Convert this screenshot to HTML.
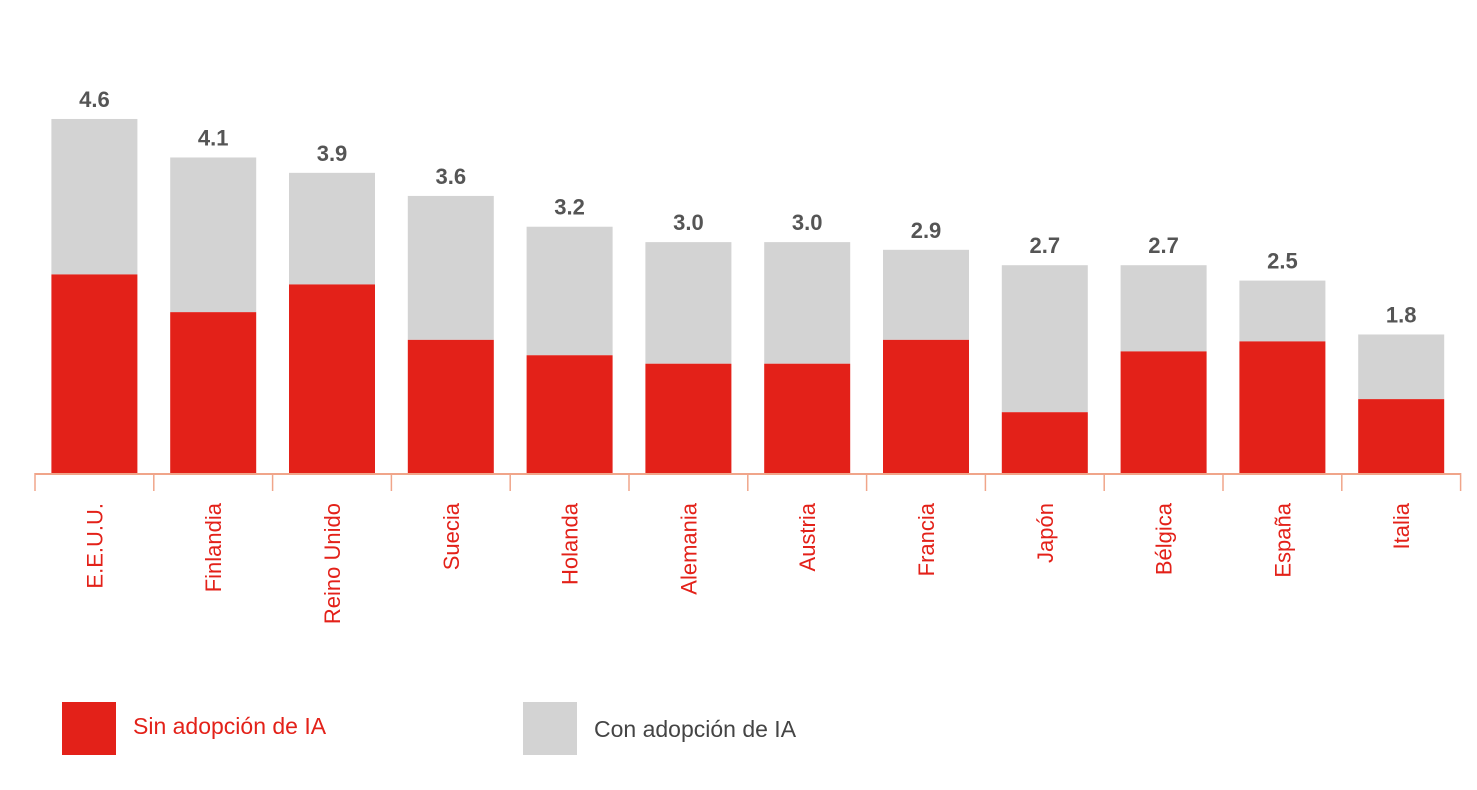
<!DOCTYPE html>
<html><head><meta charset="utf-8"><style>
body{margin:0;background:#fff;width:1477px;height:785px;overflow:hidden;font-family:"Liberation Sans",sans-serif}
</style></head><body>
<svg id="chart" width="1477" height="785" xmlns="http://www.w3.org/2000/svg">
<g id="bars"></g>
<g id="axis"></g>
<g>
<rect x="62" y="702" width="54" height="53" fill="#e32119"/>
<text x="133" y="734" font-size="23" fill="#e32119">Sin adopción de IA</text>
<rect x="523" y="702" width="54" height="53" fill="#d3d3d3"/>
<text x="594" y="737" font-size="23" fill="#444">Con adopción de IA</text>
</g>
</svg>
<script>
const categories=["E.E.U.U.","Finlandia","Reino Unido","Suecia","Holanda","Alemania","Austria","Francia","Japón","Bélgica","España","Italia"];
const totals=[4.6,4.1,3.9,3.6,3.2,3.0,3.0,2.9,2.7,2.7,2.5,1.8];
const sinIA=[2.58,2.09,2.45,1.73,1.53,1.42,1.42,1.73,0.79,1.58,1.71,0.96];
const labels=["4.6","4.1","3.9","3.6","3.2","3.0","3.0","2.9","2.7","2.7","2.5","1.8"];
const NS="http://www.w3.org/2000/svg";
const base=473, pxPerUnit=76.96, x0=35, step=118.8, barW=86;
const y=v=>base-v*pxPerUnit;
const xc=i=>x0+step*(i+0.5);
const bars=document.getElementById('bars'), axis=document.getElementById('axis');
function mk(tag,attrs,parent){const e=document.createElementNS(NS,tag);for(const k in attrs)e.setAttribute(k,attrs[k]);parent.appendChild(e);return e;}
categories.forEach((c,i)=>{
  const cx=xc(i);
  const g=mk('rect',{x:cx-barW/2,y:y(totals[i]),width:barW,height:y(sinIA[i])-y(totals[i]),fill:'#d3d3d3'},bars);
  
  
  const r=mk('rect',{x:cx-barW/2,y:y(sinIA[i]),width:barW,height:base-y(sinIA[i]),fill:'#e32119'},bars);
  
  
  const t=mk('text',{x:cx,y:y(totals[i])-12,'text-anchor':'middle','font-size':22,'font-weight':'bold',fill:'#555'},bars);
  t.textContent=labels[i];
  
  
  const l=mk('text',{transform:`translate(${cx+8},503) rotate(-90)`,'text-anchor':'end','font-size':22,fill:'#e32119'},axis);
  l.textContent=c;
  
  
});
const line=mk('line',{x1:x0,x2:x0+step*categories.length,y1:base+1,y2:base+1,stroke:'#f0a58a','stroke-width':2},axis);


for(let i=0;i<=categories.length;i++){
  const tk=mk('line',{x1:x0+step*i,x2:x0+step*i,y1:base,y2:base+18,stroke:'#f0a58a','stroke-width':1.5},axis);
  
  
}
</script>
</body></html>
